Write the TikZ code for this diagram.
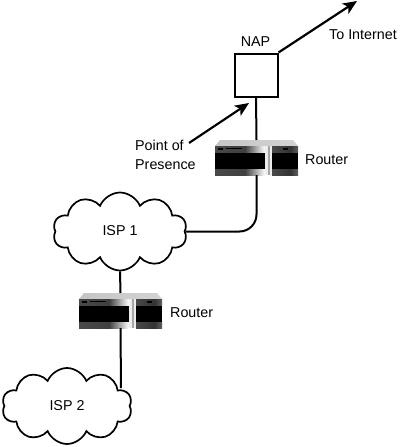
\documentclass[tikz,border=0pt]{standalone}
\usepackage{fontspec}
\setmainfont{Liberation Sans}
\usetikzlibrary{positioning, arrows.meta, shapes.symbols, calc}

\pgfdeclarehorizontalshading{leftstrip}{100bp}{color(0bp)=(gray!70); color(12bp)=(gray!60!black); color(55bp)=(gray!50!black); color(75bp)=(white); color(88bp)=(gray!80); color(100bp)=(gray!60!black)}
\pgfdeclarehorizontalshading{rightstrip}{100bp}{color(0bp)=(gray!70!black); color(60bp)=(gray!40!black); color(100bp)=(gray!70)}

\tikzset{
  wire/.style={line width=2pt, black},
  pointer/.style={line width=2.2pt, black, -{Stealth[length=14pt, width=12pt, inset=3.5pt]}},
  ispcloud/.style={draw, line width=1.7pt, fill=white, shape=cloud, cloud puffs=10, cloud puff arc=135, aspect=1.7, inner sep=0pt},
  routerbox/.style={minimum width=83pt, minimum height=35pt, inner sep=0pt, outer sep=0pt},
  lbl/.style={font=\fontsize{14.3}{19}\selectfont, inner sep=0pt, align=left}
}

% router picture, drawn inside a named node
\newcommand{\routerart}[1]{
  \shade[left color=gray!45, middle color=gray!10, right color=gray!35] ($(#1.north west)+(5,0)$) -- ($(#1.north east)+(-5,0)$) -- ($(#1.north east)+(0,6)$) -- ($(#1.north west)+(0,6)$) -- cycle;
  \fill[gray!15] ($(#1.north west)+(0,6)$) rectangle (#1.south east);
  \fill[black] ($(#1.north west)+(0,6)$) rectangle ($(#1.south west)+(50,0)$);
  \fill[black] ($(#1.north west)+(57,6)$) rectangle (#1.south east);
  \shade[shading=leftstrip] ($(#1.north west)+(0,6)$) rectangle ($(#1.north west)+(50,12)$);
  \shade[shading=rightstrip] ($(#1.north west)+(57,6)$) rectangle ($(#1.north east)+(0,12)$);
  \shade[shading=leftstrip] ($(#1.south west)+(0,-6)$) rectangle ($(#1.south west)+(50,0)$);
  \shade[shading=rightstrip] ($(#1.south west)+(57,-6)$) rectangle (#1.south east);
  \fill[black] ($(#1.north west)+(11,8)$) rectangle ($(#1.north west)+(27,9)$);
  \fill[black] ($(#1.north west)+(3,8)$) rectangle ($(#1.north west)+(8,9.5)$);
  \fill[black] ($(#1.north east)+(-15,8)$) rectangle ($(#1.north east)+(-10,9.5)$);
  \fill[gray!70] ($(#1.north west)+(53,6)$) rectangle ($(#1.south west)+(54.5,0)$);
}

\begin{document}
\begin{tikzpicture}[x=1pt, y=-1pt]
\useasboundingbox (0,0) rectangle (400,447);

% Boxes
\node[draw, line width=2pt, minimum size=43pt, inner sep=0pt] (nap) at (256, 75) {};
\node[routerbox] (rtr1) at (256.5, 157.5) {};
\node[routerbox] (rtr2) at (120.5, 310.5) {};
\routerart{rtr1}
\routerart{rtr2}

% Clouds
\node[ispcloud, minimum width=134pt, minimum height=78pt] (isp1) at (120, 231.5) {};
\node[ispcloud, minimum width=130pt, minimum height=76pt] (isp2) at (67, 406) {};

% Wires
\coordinate (isp2top) at (121, 388);
\draw[wire] (nap.south) -- (rtr1.north);
\draw[wire, rounded corners=17pt] (rtr1.south) |- (isp1.east);
\draw[wire] (isp1.south) -- (rtr2.north);
\draw[wire] (rtr2.south) -- (isp2top);

% Pointers
\coordinate (inet) at (357, 1);
\coordinate (popend) at (249, 103);
\coordinate (popstart) at (189, 143);
\draw[pointer] (nap.north east) -- (inet);
\draw[pointer] (popstart) -- (popend);

% Labels
\node[lbl] (naplbl) at (255.5, 42) {NAP};
\node[lbl, anchor=west] (inetlbl) at (329, 35) {To Internet};
\node[lbl, anchor=west] (poplbl) at (135, 154.5) {Point of\\Presence};
\node[lbl, anchor=west] (rtr1lbl) at (305, 159.5) {Router};
\node[lbl, anchor=west] (rtr2lbl) at (170, 313) {Router};
\node[lbl] (isp1lbl) at (120, 231) {ISP 1};
\node[lbl] (isp2lbl) at (67, 406) {ISP 2};
\end{tikzpicture}
\end{document}
